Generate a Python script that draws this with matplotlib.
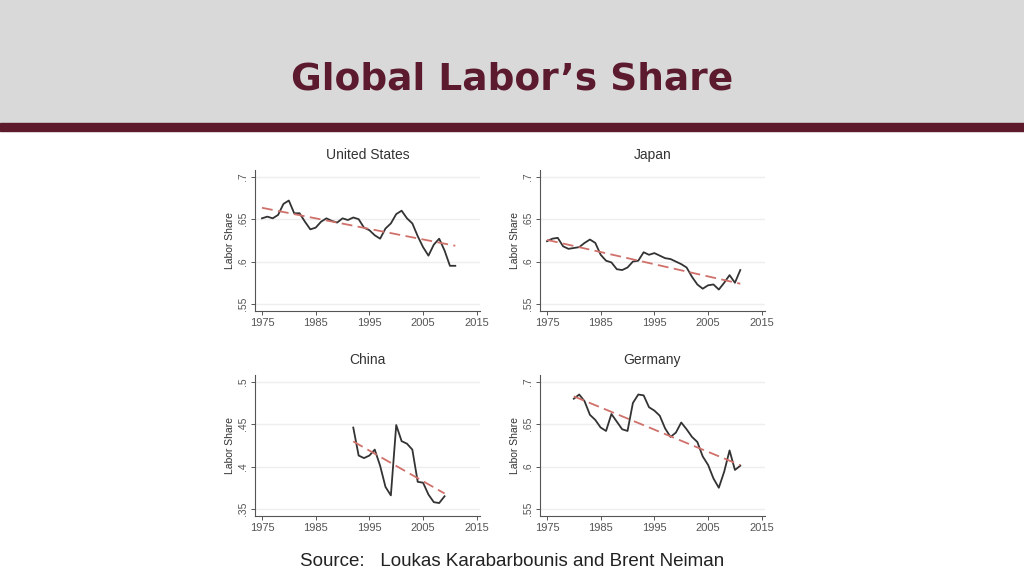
import numpy as np
import matplotlib
matplotlib.use("Agg")
import matplotlib.pyplot as plt
from matplotlib.patches import Rectangle

us_years = list(range(1975, 2012))
us_vals = [.651,.653,.651,.655,.668,.672,.657,.657,.647,.638,.640,.647,.651,.648,.646,.651,.649,.652,.650,.640,
           .637,.631,.627,.639,.645,.656,.660,.651,.645,.630,.617,.607,.620,.627,.613,.595,.595]
jp_years = list(range(1975, 2012))
jp_vals = [.624,.627,.628,.618,.615,.616,.617,.622,.626,.622,.608,.601,.599,.591,.590,.593,.600,.601,.611,.608,
           .610,.607,.604,.603,.600,.597,.593,.582,.573,.568,.572,.573,.567,.575,.584,.575,.590]
cn_years = list(range(1992, 2010))
cn_vals = [.446,.413,.410,.413,.420,.401,.376,.366,.449,.430,.427,.420,.382,.381,.367,.358,.357,.365]
de_years = list(range(1980, 2012))
de_vals = [.680,.685,.677,.661,.655,.646,.642,.662,.653,.644,.642,.675,.685,.684,.670,.666,.660,.645,.635,.640,
           .652,.644,.635,.629,.612,.602,.586,.575,.594,.619,.596,.601]

panels = [("United States", us_years, us_vals, [.55, .6, .65, .7], [".55", ".6", ".65", ".7"]),
          ("Japan", jp_years, jp_vals, [.55, .6, .65, .7], [".55", ".6", ".65", ".7"]),
          ("China", cn_years, cn_vals, [.35, .4, .45, .5], [".35", ".4", ".45", ".5"]),
          ("Germany", de_years, de_vals, [.55, .6, .65, .7], [".55", ".6", ".65", ".7"])]
xticks = [1975, 1985, 1995, 2005, 2015]

fig = plt.figure(figsize=(10.24, 5.76), dpi=100)
fig.patches.append(Rectangle((0, 1-123/576), 1, 123/576, transform=fig.transFigure, color="#d9d9d9", zorder=0))
fig.patches.append(Rectangle((0, 1-131/576), 1, 8/576, transform=fig.transFigure, color="#5c1a2a", zorder=1))
fig.text(0.5, 1-80/576, "Global Labor\u2019s Share", ha="center", va="center", fontsize=27,
         fontweight="bold", color="#5c1a2e", family="DejaVu Sans")
fig.text(0.5, 1-561/576, "Source:   Loukas Karabarbounis and Brent Neiman", ha="center", va="center",
         fontsize=13.5, family="Liberation Sans", color="#222222")

lefts = [255/1024, 540/1024, 255/1024, 540/1024]
bottoms = [1-311/576, 1-311/576, 1-516/576, 1-516/576]
for (name, yrs, vals, yt, ytl), l, b in zip(panels, lefts, bottoms):
    ax = fig.add_axes([l, b, 225/1024, 141/576])
    x = np.array(yrs); y = np.array(vals)
    ax.plot(x, y, color="#333333", lw=1.3)
    k, c = np.polyfit(x, y, 1)
    ax.plot(x, k*x+c, color="#d0706a", lw=1.3, ls=(0, (6, 3)))
    ax.set_xlim(1973.7, 2015.6)
    lo, hi = yt[0], yt[-1]
    ax.set_ylim(lo - 0.0083, hi + 0.008)
    ax.set_yticks(yt)
    ax.set_yticklabels(ytl, rotation=90, va="center", fontsize=7.5, family="Liberation Sans", color="#333")
    ax.set_xticks(xticks)
    ax.set_xticklabels([str(t) for t in xticks], fontsize=8, family="Liberation Sans", color="#333")
    ax.grid(axis="y", color="#eeeeee", lw=1)
    ax.set_axisbelow(True)
    for s in ["top", "right"]:
        ax.spines[s].set_visible(False)
    for s in ["left", "bottom"]:
        ax.spines[s].set_color("#555")
        ax.spines[s].set_linewidth(0.8)
    ax.tick_params(length=3, width=0.7, colors="#555", pad=2)
    ax.set_ylabel("Labor Share", fontsize=7.5, family="Liberation Sans", color="#333", labelpad=2)
    ax.set_title(name, fontsize=10, family="Liberation Sans", color="#333", pad=8)

fig.savefig("out.png", dpi=100)
